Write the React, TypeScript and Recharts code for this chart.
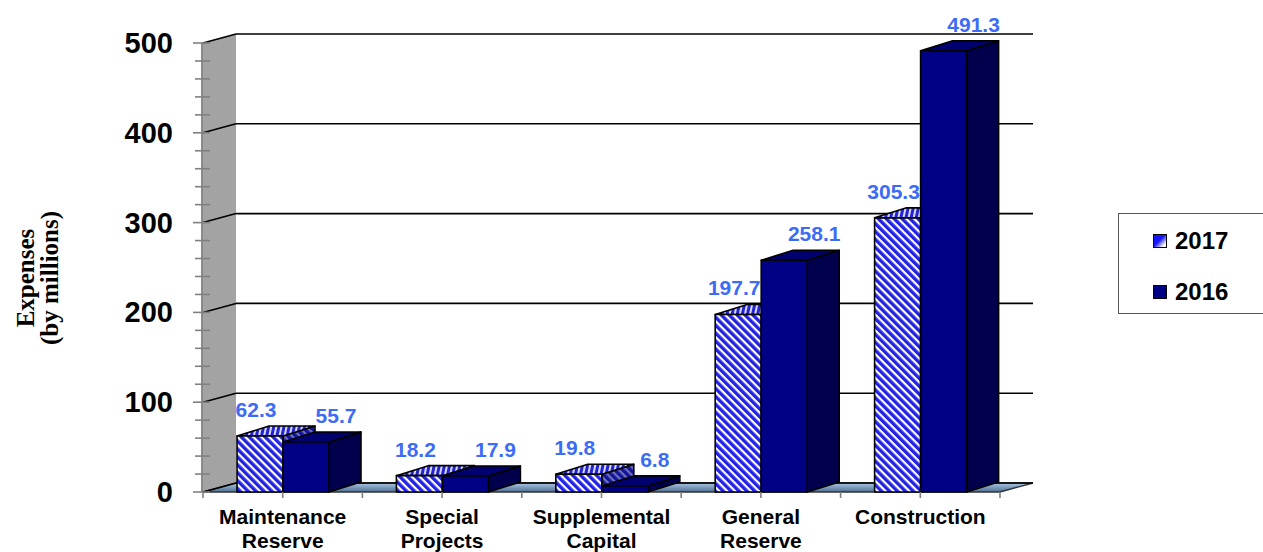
import React from "react";
import {
  BarChart,
  Bar,
  XAxis,
  YAxis,
  CartesianGrid,
  Legend,
  LabelList,
} from "recharts";

const categories = [
  "Maintenance Reserve",
  "Special Projects",
  "Supplemental Capital",
  "General Reserve",
  "Construction",
];
const values2017 = [62.3, 18.2, 19.8, 197.7, 305.3];
const values2016 = [55.7, 17.9, 6.8, 258.1, 491.3];
const yMajorTicks = [0, 100, 200, 300, 400, 500];
const yAllTicks = [
  0, 20, 40, 60, 80, 100, 120, 140, 160, 180, 200, 220, 240, 260, 280, 300,
  320, 340, 360, 380, 400, 420, 440, 460, 480, 500,
];
const Y_MAX = 500;

const data = categories.map((name, i) => ({
  name,
  y2017: values2017[i],
  y2016: values2016[i],
}));

const W = 1263;
const H = 552;
// depth offsets of the fake 3D
const WALL_DX = 33;
const WALL_DY = -9;
const BAR_DX = 32;
const BAR_DY = -10;

const SANS = "'Liberation Sans', Arial, sans-serif";
const SERIF = "'Liberation Serif', 'Times New Roman', serif";
const LABEL_BLUE = "#3c6cf5";

function Defs() {
  return (
    <svg width={0} height={0} style={{ position: "absolute" }}>
      <defs>
        <pattern
          id="hatchFront"
          patternUnits="userSpaceOnUse"
          width={5.6}
          height={5.6}
          patternTransform="rotate(-45)"
        >
          <rect x={0} y={0} width={5.6} height={5.6} fill="#ffffff" />
          <rect x={0} y={0} width={3.4} height={5.6} fill="#2323e6" />
        </pattern>
        <pattern
          id="hatchTop"
          patternUnits="userSpaceOnUse"
          width={5}
          height={5}
          patternTransform="rotate(12)"
        >
          <rect x={0} y={0} width={5} height={5} fill="#d8d8ff" />
          <rect x={0} y={0} width={3} height={5} fill="#2323d0" />
        </pattern>
        <pattern
          id="hatchSide"
          patternUnits="userSpaceOnUse"
          width={5.6}
          height={5.6}
          patternTransform="rotate(-45)"
        >
          <rect x={0} y={0} width={5.6} height={5.6} fill="#7070c0" />
          <rect x={0} y={0} width={3.4} height={5.6} fill="#14149a" />
        </pattern>
        <linearGradient id="floorGrad" x1="0" y1="0" x2="0" y2="1">
          <stop offset="0%" stopColor="#a9c6e4" />
          <stop offset="100%" stopColor="#4f6f92" />
        </linearGradient>
      </defs>
    </svg>
  );
}

function makeBarShape(front: string, top: string, side: string) {
  return (props: any) => {
    const { x, y, width, height } = props;
    if (width == null || height == null) return <g />;
    const x2 = x + width;
    const yb = y + height;
    return (
      <g stroke="#000" strokeWidth={1.6} strokeLinejoin="round">
        <polygon
          points={`${x2},${y} ${x2 + BAR_DX},${y + BAR_DY} ${x2 + BAR_DX},${yb + BAR_DY} ${x2},${yb}`}
          fill={side}
        />
        <polygon
          points={`${x},${y} ${x + BAR_DX},${y + BAR_DY} ${x2 + BAR_DX},${y + BAR_DY} ${x2},${y}`}
          fill={top}
        />
        <rect x={x} y={y} width={width} height={height} fill={front} />
      </g>
    );
  };
}

const shape2017 = makeBarShape("url(#hatchFront)", "url(#hatchTop)", "url(#hatchSide)");
const shape2016 = makeBarShape("#000084", "#00006e", "#00004c");

function gridLine(p: any) {
  const { x1, y1, x2, index, x, y, width, height } = p;
  const value = ((y + height - y1) / height) * Y_MAX;
  const rounded = Math.round(value / 20) * 20;
  const isMajor = yMajorTicks.includes(rounded);
  const base = y + height;
  return (
    <g key={`gl-${index}`}>
      {index === 0 && (
        <g>
          <polygon
            points={`${x - 1},${y} ${x + WALL_DX},${y + WALL_DY} ${x + WALL_DX},${base + WALL_DY} ${x - 1},${base}`}
            fill="#a3a3a3"
          />
          <line x1={x - 1} y1={y} x2={x - 1} y2={base} stroke="#8a8a8a" strokeWidth={2} />
          <polygon
            points={`${x},${base} ${x + WALL_DX},${base + WALL_DY} ${x + width + WALL_DX},${base + WALL_DY} ${x + width},${base}`}
            fill="url(#floorGrad)"
            stroke="#333"
            strokeWidth={1.4}
          />
        </g>
      )}
      {isMajor && (
        <g stroke="#000" strokeWidth={1.6} fill="none">
          <line x1={x1} y1={y1} x2={x1 + WALL_DX} y2={y1 + WALL_DY} />
          <line x1={x1 + WALL_DX} y1={y1 + WALL_DY} x2={x2 + WALL_DX} y2={y1 + WALL_DY} />
        </g>
      )}
    </g>
  );
}

function YTick(props: any) {
  const { y, payload } = props;
  const v = payload.value;
  const major = yMajorTicks.includes(v);
  return (
    <g>
      <line x1={major ? 193 : 195} y1={y} x2={210} y2={y} stroke="#808080" strokeWidth={1.6} />
      {major && (
        <text
          x={173}
          y={y + 10}
          textAnchor="end"
          fontFamily={SANS}
          fontWeight="bold"
          fontSize={29}
          fill="#000"
        >
          {v}
        </text>
      )}
    </g>
  );
}

const HALF_BAND = (W - 263 - 203) / categories.length / 2;

function XTick(props: any) {
  const { x, y, payload, index } = props;
  const words = String(payload.value).split(" ");
  const tick = (tx: number, k: string) => (
    <line key={k} x1={tx} y1={y} x2={tx} y2={y + 6} stroke="#808080" strokeWidth={1.6} />
  );
  return (
    <g>
      {tick(x - HALF_BAND, "l")}
      {tick(x, "c")}
      {index === categories.length - 1 && tick(x + HALF_BAND, "r")}
      {words.map((w, i) => (
        <text
          key={i}
          x={x}
          y={y + 32 + i * 24}
          textAnchor="middle"
          fontFamily={SANS}
          fontWeight="bold"
          fontSize={21}
          fill="#000"
        >
          {w}
        </text>
      ))}
    </g>
  );
}

function makeValueLabel(dx: number) {
  return (props: any) => {
    const vb = props.viewBox && props.viewBox.width != null ? props.viewBox : props;
    const { x, y, width } = vb;
    return (
      <text
        x={x + width / 2 + dx}
        y={y - 26 + 7}
        textAnchor="middle"
        fontFamily={SANS}
        fontWeight="bold"
        fontSize={21}
        fill={LABEL_BLUE}
      >
        {props.value}
      </text>
    );
  };
}

const seriesNames = ["2017", "2016"];

function LegendBox() {
  const icons = [
    { background: "linear-gradient(135deg, #1414ff 45%, #ffffff 85%)" },
    { background: "#000084" },
  ];
  return (
    <div
      style={{
        width: 160,
        height: 101,
        border: "1.5px solid #555",
        boxSizing: "border-box",
        position: "relative",
        background: "#fff",
      }}
    >
      {seriesNames.map((s, i) => (
        <div
          key={s}
          style={{
            position: "absolute",
            left: 34,
            top: 13 + i * 51,
            height: 28,
            display: "flex",
            alignItems: "center",
          }}
        >
          <span
            style={{
              width: 12,
              height: 12,
              border: "1px solid #000",
              display: "inline-block",
              marginRight: 8,
              ...icons[i],
            }}
          />
          <span
            style={{
              fontFamily: SANS,
              fontWeight: "bold",
              fontSize: 24,
              color: "#000",
              lineHeight: "28px",
            }}
          >
            {s}
          </span>
        </div>
      ))}
    </div>
  );
}

export default function App() {
  return (
    <div
      style={{
        position: "absolute",
        left: 0,
        top: 0,
        width: W,
        height: H,
        background: "#fff",
        overflow: "hidden",
      }}
    >
      <Defs />
      <BarChart
        width={W}
        height={H}
        data={data}
        margin={{ top: 43, right: 263, bottom: 0, left: 0 }}
        barGap={0}
        barSize={46}
      >
        <CartesianGrid horizontal={gridLine} vertical={false} />
        <XAxis
          dataKey="name"
          height={60}
          axisLine={false}
          tickLine={false}
          tickSize={0}
          tickMargin={0}
          interval={0}
          tick={<XTick />}
        />
        <YAxis
          domain={[0, Y_MAX]}
          ticks={yAllTicks}
          width={203}
          axisLine={false}
          tickLine={false}
          tickSize={0}
          tickMargin={0}
          interval={0}
          tick={<YTick />}
        />
        <Legend
          layout="vertical"
          align="center"
          verticalAlign="middle"
          wrapperStyle={{ left: 1118, top: 213, width: 160, height: 101 }}
          content={() => <LegendBox />}
        />
        <Bar
          dataKey="y2017"
          name="2017"
          fill="url(#hatchFront)"
          shape={shape2017}
          isAnimationActive={false}
        >
          <LabelList dataKey="y2017" content={makeValueLabel(-4)} />
        </Bar>
        <Bar
          dataKey="y2016"
          name="2016"
          fill="#000084"
          shape={shape2016}
          isAnimationActive={false}
        >
          <LabelList dataKey="y2016" content={makeValueLabel(30)} />
        </Bar>
      </BarChart>
      <svg
        width={80}
        height={H}
        style={{ position: "absolute", left: 0, top: 0 }}
      >
        <text
          transform="translate(34,278) rotate(-90)"
          textAnchor="middle"
          fontFamily={SERIF}
          fontWeight="bold"
          fontSize={25}
          fill="#000"
        >
          <tspan x={0} y={0}>Expenses</tspan>
          <tspan x={0} y={24}>(by millions)</tspan>
        </text>
      </svg>
    </div>
  );
}
